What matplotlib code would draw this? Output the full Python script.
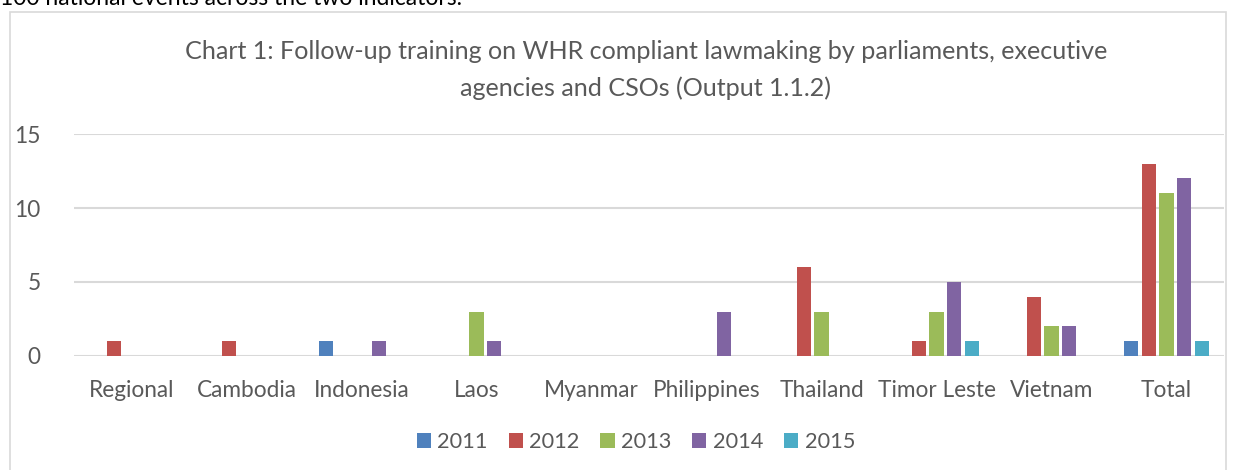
import matplotlib
matplotlib.use("Agg")
import matplotlib.pyplot as plt
from matplotlib.patches import Rectangle, Patch
import numpy as np

plt.rcParams['font.family'] = ['Lato', 'DejaVu Sans']

categories = ["Regional", "Cambodia", "Indonesia", "Laos", "Myanmar",
              "Philippines", "Thailand", "Timor Leste", "Vietnam", "Total"]
years = ["2011", "2012", "2013", "2014", "2015"]
v2011 = [0, 0, 1, 0, 0, 0, 0, 0, 0, 1]
v2012 = [1, 1, 0, 0, 0, 0, 6, 1, 4, 13]
v2013 = [0, 0, 0, 3, 0, 0, 3, 3, 2, 11]
v2014 = [0, 0, 1, 1, 0, 3, 0, 5, 2, 12]
v2015 = [0, 0, 0, 0, 0, 0, 0, 1, 0, 1]
series = [v2011, v2012, v2013, v2014, v2015]
colors = ["#4F81BD", "#C0504D", "#9BBB59", "#8064A2", "#4BACC6"]

W, H = 1241, 470
fig = plt.figure(figsize=(W / 100, H / 100), dpi=100)

# Chart border (Word-embedded chart frame)
fig.patches.append(Rectangle((10 / W, -0.1), (1226 - 10) / W, (H - 12) / H + 0.1,
                             transform=fig.transFigure, fill=False,
                             edgecolor="#D9D9D9", linewidth=1.2))

# Cut-off document text above chart
fig.text(0 / W, 1 + 2 / H, "100 national events across the two indicators.",
         fontsize=16.5, color="black", ha="left", va="center")

left, right = 74 / W, 1224 / W
bottom, top = 1 - 356 / H, 1 - 134 / H
ax = fig.add_axes([left, bottom, right - left, top - bottom])

n = len(series)
slot = 1 / (n + 1.5)
x = np.arange(len(categories))
for i, (vals, c) in enumerate(zip(series, colors)):
    offs = (i - (n - 1) / 2) * slot
    ax.bar(x + offs, vals, width=slot * 0.8, color=c, zorder=3)

ax.set_xlim(-0.5, len(categories) - 0.5)
ax.set_ylim(0, 15)
ax.set_yticks([0, 5, 10, 15])
ax.set_xticks(x)
ax.set_xticklabels(categories)
ax.tick_params(axis='both', length=0, labelsize=16.3, colors="#595959")
ax.tick_params(axis='y', pad=24)
ax.tick_params(axis='x', pad=17)
ax.grid(axis='y', color="#D9D9D9", linewidth=1.5, zorder=0)
for s in ax.spines.values():
    s.set_visible(False)

fig.text(646 / W, 1 - 52 / H,
         "Chart 1: Follow-up training on WHR compliant lawmaking by parliaments, executive",
         fontsize=18.1, color="#595959", ha="center", va="center")
fig.text(646 / W, 1 - 88 / H, "agencies and CSOs (Output 1.1.2)",
         fontsize=18.1, color="#595959", ha="center", va="center")

handles = [Patch(facecolor=c, edgecolor='none') for c in colors]
fig.legend(handles, years, loc="center", bbox_to_anchor=(636 / W, 1 - 442 / H),
           ncol=5, frameon=False, fontsize=15.7, handlelength=0.65, handleheight=0.65,
           handletextpad=0.3, columnspacing=0.95, labelcolor="#595959")

fig.savefig("out.png", dpi=100)
